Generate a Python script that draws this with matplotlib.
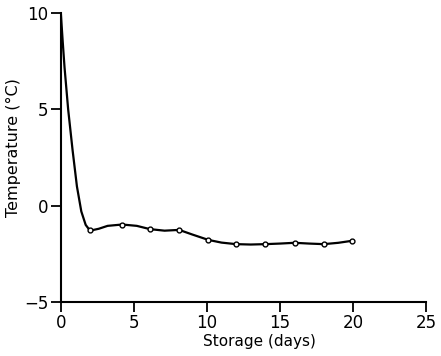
import numpy as np
import matplotlib.pyplot as plt

# storage temperature
curve_days = [0, 0.05, 0.12, 0.25, 0.5, 0.8, 1.1, 1.4, 1.7, 2.0, 2.6, 3.2, 4.2, 5.2, 6.1,
              7.1, 8.1, 9.0, 10.1, 11.0, 12.0, 13.0, 14.0, 15.0, 16.0, 17.0, 18.0, 19.0, 19.9]
curve_temp = [10, 9.4, 8.6, 7.2, 5.0, 2.9, 1.0, -0.3, -1.0, -1.3, -1.2, -1.05, -0.98, -1.05, -1.22,
              -1.3, -1.26, -1.5, -1.78, -1.92, -2.0, -2.02, -2.0, -1.97, -1.93, -1.97, -2.0, -1.93, -1.83]

days = [2.0, 4.2, 6.1, 8.1, 10.1, 12.0, 14.0, 16.0, 18.0, 19.9]
temp = [-1.28, -0.98, -1.22, -1.25, -1.78, -2.0, -2.0, -1.93, -2.0, -1.83]

fig = plt.figure(figsize=(4.41, 3.56), dpi=100)
ax = fig.add_axes([0.138, 0.152, 0.828, 0.811])

ax.plot(curve_days, curve_temp, color='black', lw=1.6, zorder=2)
ax.plot(days, temp, 'o', mfc='white', mec='black', ms=3.5, mew=1.0, zorder=3)

ax.set_xlim(0, 25)
ax.set_ylim(-5, 10)
ax.set_xticks([0, 5, 10, 15, 20, 25])
ax.set_yticks([-5, 0, 5, 10])
ax.spines['top'].set_visible(False)
ax.spines['right'].set_visible(False)
ax.spines['left'].set_linewidth(1.5)
ax.spines['bottom'].set_linewidth(1.5)
ax.tick_params(direction='out', length=7, width=1.3, labelsize=12, pad=2)

ax.set_xlabel('Storage (days)', fontsize=11)
ax.set_ylabel('Temperature (\u00b0C)', fontsize=11.5)
ax.xaxis.set_label_coords(0.545, -0.11)
ax.yaxis.set_label_coords(-0.11, 0.536)

fig.savefig('out.png', dpi=100)
